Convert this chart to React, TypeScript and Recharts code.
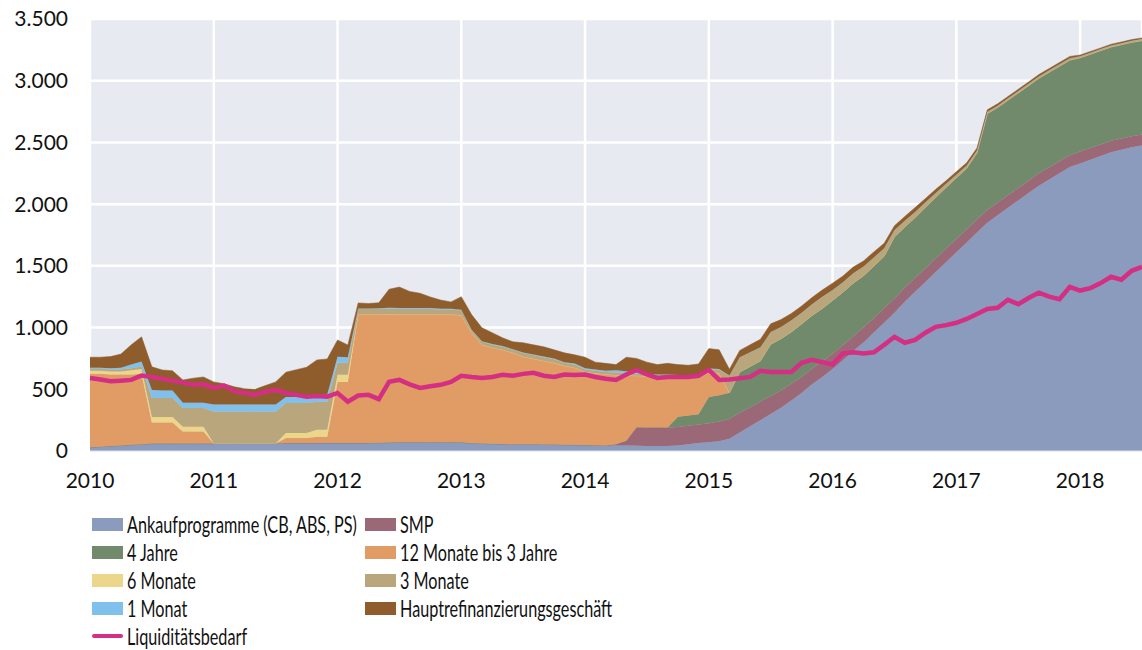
import React from "react";
import { ComposedChart, Area, Line, XAxis, YAxis, CartesianGrid } from "recharts";

// monthly observations, Jan 2010 .. Jul 2018 (bn EUR)
const years = [2010, 2011, 2012, 2013, 2014, 2015, 2016, 2017, 2018];
const monthNums = ["01", "02", "03", "04", "05", "06", "07", "08", "09", "10", "11", "12"];
const months = years.flatMap((y) => monthNums.map((m) => `${y}-${m}`)).slice(0, 103);
const yearTicks = years.map((y) => `${y}-01`);
const yTicks = [0, 500, 1000, 1500, 2000, 2500, 3000, 3500];

const ankauf = [
  30, 35, 40, 45, 50, 55, 60, 60, 60, 60, 60, 60,
  60, 60, 60, 60, 60, 60, 60, 65, 65, 65, 65, 65,
  65, 65, 65, 65, 66, 68, 70, 70, 70, 70, 70, 70,
  70, 62, 60, 58, 56, 55, 55, 54, 53, 52, 50, 50,
  48, 46, 45, 45, 44, 42, 40, 40, 40, 45, 55, 65,
  70, 80, 100, 150, 200, 250, 300, 350, 410, 470, 540, 600,
  665, 735, 810, 880, 960, 1040, 1120, 1210, 1290, 1370, 1450, 1530,
  1610, 1690, 1770, 1850, 1910, 1970, 2030, 2090, 2150, 2200, 2250, 2300,
  2330, 2360, 2390, 2420, 2440, 2460, 2475,
];
const smp = [
  0, 0, 0, 0, 0, 0, 0, 0, 0, 0, 0, 0,
  0, 0, 0, 0, 0, 0, 0, 0, 0, 0, 0, 0,
  0, 0, 0, 0, 0, 0, 0, 0, 0, 0, 0, 0,
  0, 0, 0, 0, 0, 0, 0, 0, 0, 0, 0, 0,
  0, 0, 0, 10, 40, 150, 150, 150, 150, 150, 150, 150,
  155, 160, 160, 160, 155, 150, 145, 140, 135, 130, 128, 125,
  125, 122, 120, 120, 118, 118, 115, 115, 112, 110, 110, 110,
  108, 106, 105, 104, 103, 102, 101, 100, 100, 99, 98, 97,
  96, 95, 94, 93, 92, 91, 90,
];
const jahre4 = [
  0, 0, 0, 0, 0, 0, 0, 0, 0, 0, 0, 0,
  0, 0, 0, 0, 0, 0, 0, 0, 0, 0, 0, 0,
  0, 0, 0, 0, 0, 0, 0, 0, 0, 0, 0, 0,
  0, 0, 0, 0, 0, 0, 0, 0, 0, 0, 0, 0,
  0, 0, 0, 0, 0, 0, 0, 0, 0, 82, 82, 82,
  212, 212, 212, 330, 330, 330, 420, 420, 420, 430, 430, 430,
  430, 430, 430, 420, 420, 420, 500, 490, 490, 495, 495, 495,
  495, 495, 540, 780, 770, 770, 770, 770, 770, 770, 770, 770,
  760, 760, 760, 760, 760, 760, 760,
];
const monate12bis3j = [
  595, 590, 580, 575, 570, 570, 170, 170, 170, 97, 97, 97,
  0, 0, 0, 0, 0, 0, 0, 40, 40, 40, 50, 50,
  495, 495, 1040, 1040, 1040, 1040, 1035, 1035, 1035, 1035, 1035, 1035,
  1030, 896, 800, 778, 764, 740, 708, 693, 677, 662, 640, 624,
  592, 584, 575, 560, 528, 418, 415, 410, 410, 318, 308, 298,
  196, 178, 0, 0, 0, 0, 0, 0, 0, 0, 0, 0,
  0, 0, 0, 0, 0, 0, 0, 0, 0, 0, 0, 0,
  0, 0, 0, 0, 0, 0, 0, 0, 0, 0, 0, 0,
  0, 0, 0, 0, 0, 0, 0,
];
const monate6 = [
  25, 25, 25, 25, 35, 40, 46, 46, 46, 40, 40, 40,
  0, 0, 0, 0, 0, 0, 0, 40, 40, 40, 57, 57,
  57, 57, 0, 0, 0, 0, 0, 0, 0, 0, 0, 0,
  0, 0, 0, 0, 0, 0, 0, 0, 0, 0, 0, 0,
  0, 0, 0, 0, 0, 0, 0, 0, 0, 0, 0, 0,
  0, 0, 0, 0, 0, 0, 0, 0, 0, 0, 0, 0,
  0, 0, 0, 0, 0, 0, 0, 0, 0, 0, 0, 0,
  0, 0, 0, 0, 0, 0, 0, 0, 0, 0, 0, 0,
  0, 0, 0, 0, 0, 0, 0,
];
const monate3 = [
  15, 15, 15, 15, 15, 20, 154, 154, 154, 152, 152, 152,
  260, 260, 260, 260, 260, 260, 260, 244, 244, 244, 227, 227,
  97, 97, 45, 45, 45, 45, 45, 45, 45, 45, 40, 40,
  40, 20, 25, 25, 25, 25, 30, 30, 30, 30, 25, 25,
  20, 20, 20, 20, 20, 15, 15, 15, 15, 15, 15, 15,
  30, 30, 140, 120, 115, 110, 100, 95, 95, 90, 90, 95,
  85, 80, 80, 75, 70, 65, 55, 50, 45, 40, 35, 30,
  25, 22, 20, 15, 15, 15, 15, 15, 15, 15, 15, 15,
  12, 12, 12, 12, 12, 12, 12,
];
const monat1 = [
  10, 10, 10, 15, 30, 40, 65, 60, 60, 41, 41, 41,
  57, 57, 57, 57, 57, 57, 57, 48, 48, 48, 57, 57,
  49, 45, 5, 5, 5, 8, 8, 8, 8, 8, 8, 8,
  5, 5, 5, 5, 5, 5, 5, 5, 5, 5, 5, 10,
  10, 10, 10, 20, 15, 10, 5, 5, 5, 5, 5, 5,
  5, 5, 0, 0, 0, 0, 0, 0, 0, 0, 0, 0,
  0, 0, 0, 0, 0, 0, 0, 0, 0, 0, 0, 0,
  0, 0, 0, 0, 0, 0, 0, 0, 0, 0, 0, 0,
  0, 0, 0, 0, 0, 0, 0,
];
const hrg = [
  85, 85, 95, 110, 160, 200, 187, 167, 160, 186, 200, 210,
  183, 168, 143, 128, 123, 153, 183, 202, 222, 242, 282, 290,
  137, 100, 45, 40, 45, 150, 170, 135, 120, 90, 70, 55,
  105, 122, 108, 92, 67, 60, 79, 78, 79, 71, 75, 70,
  90, 60, 60, 45, 113, 115, 95, 80, 90, 85, 80, 90,
  162, 155, 50, 55, 60, 65, 65, 60, 55, 55, 55, 55,
  55, 50, 50, 45, 45, 40, 35, 35, 35, 30, 30, 25,
  25, 22, 20, 15, 15, 15, 15, 15, 15, 15, 15, 15,
  10, 10, 10, 10, 10, 10, 10,
];
const liquiditaet = [
  592, 580, 565, 570, 576, 612, 600, 585, 570, 555, 536, 540,
  511, 530, 485, 470, 455, 480, 495, 470, 455, 440, 445, 440,
  470, 400, 450, 455, 420, 560, 576, 540, 511, 525, 536, 560,
  610, 600, 592, 600, 617, 610, 625, 633, 610, 600, 620, 615,
  620, 600, 585, 576, 620, 657, 620, 592, 600, 600, 600, 610,
  657, 576, 580, 590, 600, 650, 640, 640, 640, 714, 739, 720,
  700, 790, 800, 790, 800, 860, 925, 877, 900, 958, 1006, 1020,
  1039, 1070, 1110, 1150, 1160, 1225, 1190, 1240, 1282, 1250, 1230, 1330,
  1300, 1320, 1360, 1412, 1388, 1460, 1493,
];

const series = [
  { key: "ankauf", name: "Ankaufprogramme (CB, ABS, PS)", color: "#8a9bbd", values: ankauf },
  { key: "smp", name: "SMP", color: "#9b6878", values: smp },
  { key: "jahre4", name: "4 Jahre", color: "#728a6c", values: jahre4 },
  { key: "m12", name: "12 Monate bis 3 Jahre", color: "#e09c64", values: monate12bis3j },
  { key: "m6", name: "6 Monate", color: "#ecd68c", values: monate6 },
  { key: "m3", name: "3 Monate", color: "#baa67c", values: monate3 },
  { key: "m1", name: "1 Monat", color: "#80c0ec", values: monat1 },
  { key: "hrg", name: "Hauptrefinanzierungsgeschäft", color: "#8f5d2c", values: hrg },
];
const lineColor = "#d42f82";

const data = months.map((month, i) => {
  const row: Record<string, any> = { month, liq: liquiditaet[i] };
  series.forEach((s) => (row[s.key] = s.values[i]));
  return row;
});

const fmt = (v: number) => String(v).replace(/\B(?=(\d{3})+(?!\d))/g, ".");
const tickStyle = { fill: "#111", fontSize: 21, fontFamily: "Lato, 'Open Sans', sans-serif" };

function LegendBox() {
  const items = [
    ...series.map((s) => ({ name: s.name, color: s.color, line: false })),
    { name: "Liquiditätsbedarf", color: lineColor, line: true },
  ];
  return (
    <div
      style={{
        position: "absolute",
        left: 92,
        top: 510,
        display: "grid",
        gridTemplateColumns: "273px 320px",
        fontFamily: "Lato, sans-serif",
        fontSize: 22.5,
        color: "#111",
      }}
    >
      {items.map((it) => (
        <div key={it.name} style={{ display: "flex", alignItems: "center", height: 28, whiteSpace: "nowrap" }}>
          <span
            style={{
              display: "inline-block",
              flex: "none",
              width: 31,
              height: it.line ? 4 : 13,
              borderRadius: it.line ? 2 : 0,
              background: it.color,
              marginRight: 4,
            }}
          />
          <span style={{ display: "inline-block", transform: "scaleX(0.72)", transformOrigin: "left center" }}>
            {it.name}
          </span>
        </div>
      ))}
    </div>
  );
}

export default function App() {
  return (
    <div style={{ position: "absolute", left: 0, top: 0, width: 1142, height: 650, background: "#fff" }}>
      <ComposedChart
        width={1142}
        height={500}
        data={data}
        margin={{ top: 19, right: 0, left: 0, bottom: 0 }}
      >
        <CartesianGrid fill="#e8eaf1" stroke="#ffffff" strokeWidth={2.5} />
        <XAxis
          dataKey="month"
          ticks={yearTicks}
          interval={0}
          tickFormatter={(v: string) => v.slice(0, 4)}
          tickLine={false}
          axisLine={{ stroke: "#dcdfe7" }}
          tick={tickStyle}
          tickMargin={16}
          height={49}
        />
        <YAxis
          domain={[0, 3500]}
          ticks={yTicks}
          tickFormatter={fmt}
          tickLine={false}
          axisLine={false}
          tick={tickStyle}
          tickMargin={16}
          width={90}
        />
        {series.map((s) => (
          <Area
            key={s.key}
            dataKey={s.key}
            name={s.name}
            stackId="1"
            type="linear"
            fill={s.color}
            fillOpacity={1}
            stroke={s.color}
            strokeWidth={0.5}
            isAnimationActive={false}
          />
        ))}
        <Line
          dataKey="liq"
          name="Liquiditätsbedarf"
          type="linear"
          stroke={lineColor}
          strokeWidth={4.5}
          dot={false}
          isAnimationActive={false}
        />
      </ComposedChart>
      <LegendBox />
    </div>
  );
}
